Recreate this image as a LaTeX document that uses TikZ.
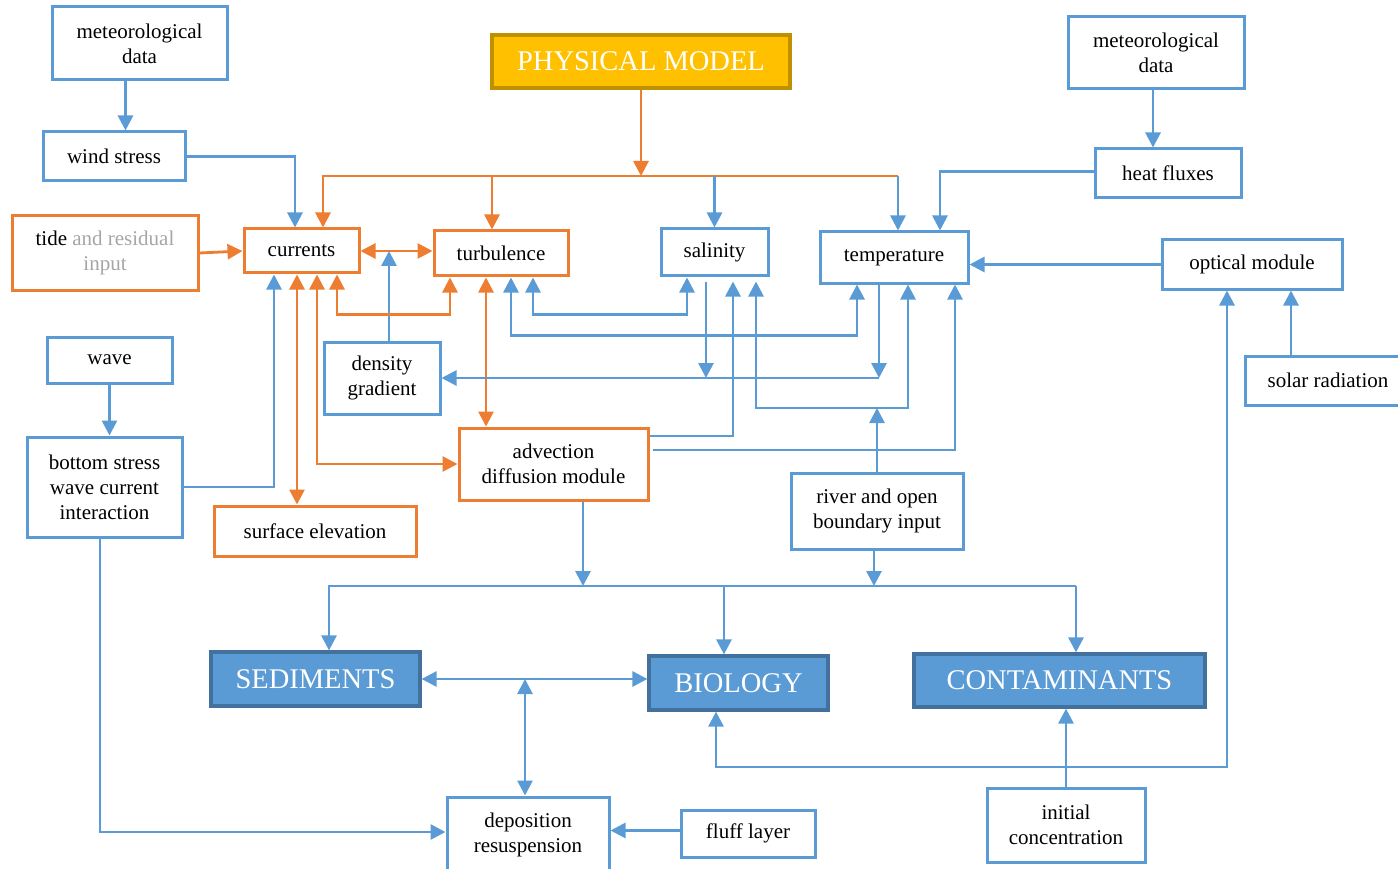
\documentclass[tikz,border=0pt]{standalone}
\usepackage{fontspec}
\setmainfont{Liberation Serif}
\usetikzlibrary{arrows.meta}
\definecolor{boxblue}{HTML}{5B9BD5}
\definecolor{boxorange}{HTML}{ED7D31}
\definecolor{darkblue}{HTML}{41719C}
\definecolor{gold}{HTML}{FFC000}
\definecolor{darkgold}{HTML}{BF9000}
\definecolor{textgray}{HTML}{A6A6A6}

\begin{document}
\begin{tikzpicture}[x = 1pt, y = -1pt, >={Triangle[length = 15pt, width = 15pt]},
	box/.style = {draw = boxblue, line width = 3pt, fill = white, align = center, inner sep = 0pt, font = \fontsize{21}{25}\selectfont},
	obox/.style = {box, draw = boxorange},
	bigbox/.style = {draw = darkblue, line width = 3.2pt, fill = boxblue, text = white, inner sep = 0pt, font = \fontsize{28.5}{32}\selectfont},
	bline/.style = {draw = boxblue, line width = 2.8pt},
	oline/.style = {draw = boxorange, line width = 2.8pt}]
	\useasboundingbox (0,0) rectangle (1398,869);
	\node[bigbox, draw = darkgold, fill = gold, minimum width = 298pt, minimum height = 53pt] (phys) at (641,61.5) {PHYSICAL MODEL};
	\node[box, minimum width = 175pt, minimum height = 73pt] (met1) at (139.5,43.5) {meteorological\\data};
	\node[box, minimum width = 142pt, minimum height = 49pt] (wind) at (114,156.5) {wind stress};
	\node[obox, minimum width = 186pt, minimum height = 74pt] (tide) at (105,253) {tide \textcolor{textgray}{and residual}\\\textcolor{textgray}{input}};
	\node[obox, minimum width = 115pt, minimum height = 44pt] (cur) at (301.5,251) {currents};
	\node[obox, minimum width = 134pt, minimum height = 45pt] (tur) at (501,253.5) {turbulence};
	\node[box, minimum width = 107pt, minimum height = 47pt] (sal) at (714.5,252.5) {salinity};
	\node[box, minimum width = 148pt, minimum height = 51pt] (temp) at (894,257.5) {temperature};
	\node[box, minimum width = 176pt, minimum height = 72pt] (met2) at (1156,53) {meteorological\\data};
	\node[box, minimum width = 146pt, minimum height = 49pt] (heat) at (1168,173.5) {heat fluxes};
	\node[box, minimum width = 180pt, minimum height = 49pt] (opt) at (1252,264.5) {optical module};
	\node[box, minimum width = 166pt, minimum height = 49pt] (sol) at (1328,380.5) {solar radiation};
	\node[box, minimum width = 125pt, minimum height = 46pt] (wave) at (109.5,360) {wave};
	\node[box, minimum width = 155pt, minimum height = 100pt] (bot) at (104.5,487) {bottom stress\\wave current\\interaction};
	\node[box, minimum width = 116pt, minimum height = 72pt] (dens) at (382,378) {density\\gradient};
	\node[obox, minimum width = 189pt, minimum height = 72pt] (adv) at (553.5,464) {advection\\diffusion module};
	\node[obox, minimum width = 202pt, minimum height = 50pt] (surf) at (315,531) {surface elevation};
	\node[box, minimum width = 172pt, minimum height = 76pt] (riv) at (877,511) {river and open\\boundary input};
	\node[bigbox, minimum width = 209pt, minimum height = 54pt] (sed) at (315.5,679) {SEDIMENTS};
	\node[bigbox, minimum width = 179pt, minimum height = 54pt] (bio) at (738.5,683) {BIOLOGY};
	\node[bigbox, minimum width = 291pt, minimum height = 53pt] (con) at (1059.5,680.5) {CONTAMINANTS};
	\node[box, minimum width = 162pt, minimum height = 76pt] (depo) at (528,835) {deposition\\resuspension};
	\node[box, minimum width = 134pt, minimum height = 47pt] (fluff) at (748,833.5) {fluff layer};
	\node[box, minimum width = 158pt, minimum height = 74pt] (init) at (1066,825) {initial\\concentration};
	\coordinate (busL) at (323,176);
	\coordinate (busR) at (898,176);
	\coordinate (dline) at (879,378);
	\coordinate (rbar) at (908,408);
	\coordinate (bus2L) at (329,586);
	\coordinate (bus2R) at (1076,586);
	\coordinate (loopR) at (1227,767);
	\draw[bline, ->] ([xshift = -14pt]met1.south) -- ([xshift = -14pt]met1.south |- wind.north);
	\draw[bline, ->] (wind.east) -| ([xshift = -6.5pt]cur.north);
	\draw[oline, ->] (phys.south) -- (phys.south |- busL);
	\draw[oline, ->] (busR) -- (busL) -- (busL |- cur.north);
	\draw[oline, ->] ([xshift = -9pt]tur.north |- busL) -- ([xshift = -9pt]tur.north);
	\draw[bline, ->] (sal.north |- busL) -- (sal.north);
	\draw[bline, ->] (busR) -- (busR |- temp.north);
	\draw[bline, ->] ([yshift = 2pt]heat.west) -| ([xshift = 46pt]temp.north);
	\draw[bline, ->] ([xshift = -3pt]met2.south) -- ([xshift = -3pt]met2.south |- heat.north);
	\draw[oline, ->] (tide.east) -- (cur.west);
	\draw[oline, <->] (cur.east) -- (cur.east -| tur.west);
	\draw[bline, ->] ([xshift = 7pt]dens.north) -- ([xshift = 7pt]dens.north |- cur.east);
	\draw[oline, <->] ([xshift = 35.5pt]cur.south) -- ++(0,40) -| ([xshift = -51pt]tur.south);
	\draw[bline, ->] (bot.east) -| ([xshift = -27.5pt]cur.south);
	\draw[oline, <->] ([xshift = -4.5pt]cur.south) -- ([xshift = -4.5pt]cur.south |- surf.north);
	\draw[oline, <->] ([xshift = 15.5pt]cur.south) |- (adv.west);
	\draw[oline, <->] ([xshift = -15pt]tur.south) -- ([xshift = -15pt]tur.south |- adv.north);
	\draw[bline, <->] ([xshift = 32pt]tur.south) -- ++(0,37) -| ([xshift = -27.5pt]sal.south);
	\draw[bline, <->] ([xshift = 10pt]tur.south) -- ++(0,58) -| ([xshift = -37pt]temp.south);
	\draw[bline, ->] ([xshift = -8.5pt, yshift = -4pt]sal.south) -- ([xshift = -8.5pt]sal.south |- dline);
	\draw[bline, ->] ([xshift = -15pt]temp.south) -- (dline);
	\draw[bline, ->] (dline) -- (dline -| dens.east);
	\draw[bline, ->] ([yshift = 28pt]adv.east) -| ([xshift = 18.5pt, yshift = -4pt]sal.south);
	\draw[bline, ->] ([yshift = 14pt, xshift = 3pt]adv.east) -| ([xshift = 61pt]temp.south);
	\draw[bline, ->] (riv.north) -- (riv.north |- rbar);
	\draw[bline, <->] ([xshift = 41.5pt, yshift = -4pt]sal.south) |- (rbar) -- ([xshift = 14pt]temp.south);
	\draw[bline, ->] (opt.west) -- (opt.west -| temp.east);
	\draw[bline, ->] ([xshift = -37pt]sol.north) -- ([xshift = -37pt]sol.north |- opt.south);
	\draw[bline, ->] (wave.south) -- (wave.south |- bot.north);
	\draw[bline, ->] ([xshift = -4.5pt]bot.south) |- ([yshift = 3pt]depo.west);
	\draw[bline, ->] ([xshift = 29.5pt]adv.south) -- ([xshift = 29.5pt]adv.south |- bus2L);
	\draw[bline, ->] ([xshift = -3pt]riv.south) -- ([xshift = -3pt]riv.south |- bus2L);
	\draw[bline, ->] (bus2R) -- (bus2L) -- (bus2L |- sed.north);
	\draw[bline, ->] ([xshift = -14.5pt]bio.north |- bus2L) -- ([xshift = -14.5pt]bio.north);
	\draw[bline, ->] (bus2R) -- (bus2R |- con.north);
	\draw[bline, <->] (sed.east) -- (sed.east -| bio.west);
	\draw[bline, <->] ([xshift = -3pt]depo.north) -- ([xshift = -3pt]depo.north |- sed.east);
	\draw[bline, ->] ([yshift = 3pt]fluff.west) -- ([yshift = 3pt]fluff.west -| depo.east);
	\draw[bline, <->] ([xshift = -25pt]opt.south) -- (loopR) -| ([xshift = -22.5pt]bio.south);
	\draw[bline, ->] (init.north) -- (init.north |- con.south);
\end{tikzpicture}
\end{document}
